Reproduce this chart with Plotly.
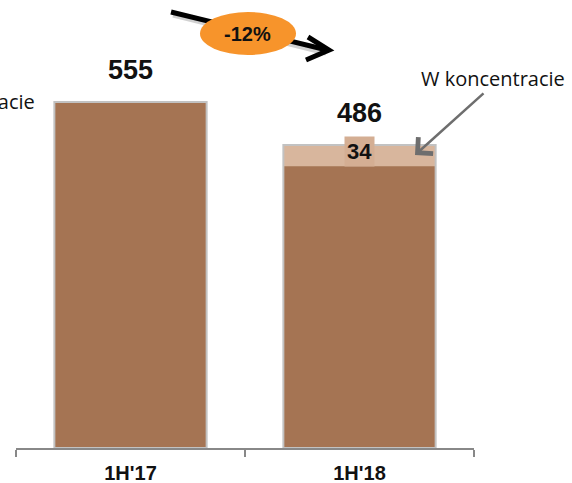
import plotly.graph_objects as go

# ---- data ----
categories = ["1H'17", "1H'18"]
base_values = [555, 452]          # main part of each bar
concentrate_values = [0, 34]      # "W koncentracie" part
change_label = "-12%"
concentrate_label = "W koncentracie"

totals = [b + c for b, c in zip(base_values, concentrate_values)]

# ---- styling ----
DARK = "#A57453"
LIGHT = "#D8B69D"
BOX = "#D4AE93"
OUTLINE = "#C2C2C2"
ORANGE = "#F7942B"
W, H = 572, 483
ML, MR, MT, MB = 16, 98, 10, 35
PW, PH = W - ML - MR, H - MT - MB
YMAX = PH / 0.6234


def px(x):
    return (x - ML) / PW


def py(y):
    return (H - MB - y) / PH


fig = go.Figure()
fig.add_trace(go.Bar(x=categories, y=totals, marker=dict(color=LIGHT, line=dict(width=0)),
                     hoverinfo="skip"))
fig.add_trace(go.Bar(x=categories, y=base_values, marker=dict(color=DARK, line=dict(width=0)),
                     hoverinfo="skip"))
fig.add_trace(go.Bar(x=categories, y=totals,
                     marker=dict(color="rgba(0,0,0,0)", line=dict(width=2, color=OUTLINE)),
                     hoverinfo="skip"))

annotations = []
for cat, tot in zip(categories, totals):
    annotations.append(dict(x=cat, y=tot, xref="x", yref="y", text=str(tot), showarrow=False,
                            yanchor="middle", yshift=32,
                            font=dict(family="Liberation Sans", size=27, color="#111", weight="bold")))

for cat, b, c in zip(categories, base_values, concentrate_values):
    if c > 0:
        annotations.append(dict(x=cat, y=b + c / 2, xref="x", yref="y", text=str(c), showarrow=False,
                                yshift=4, bgcolor=BOX, borderpad=2,
                                font=dict(family="Liberation Sans", size=22, color="#111", weight="bold")))

# callout labels
annotations.append(dict(x=px(419), y=py(79), xref="paper", yref="paper", text=concentrate_label,
                        showarrow=False, xanchor="left", yanchor="middle",
                        font=dict(family="Open Sans", size=20, color="#111")))
annotations.append(dict(x=px(37), y=py(101), xref="paper", yref="paper", text=concentrate_label,
                        showarrow=False, xanchor="right", yanchor="middle",
                        font=dict(family="Open Sans", size=20, color="#111")))
# gray arrow
annotations.append(dict(x=px(415), y=py(155), xref="paper", yref="paper", text="",
                        showarrow=True, ax=70, ay=-63, arrowhead=4, arrowwidth=2.5,
                        arrowsize=1.7, arrowcolor="#6E6E6E"))
# change label
annotations.append(dict(x=px(248), y=py(34), xref="paper", yref="paper", text=change_label,
                        showarrow=False, xanchor="center", yanchor="middle",
                        font=dict(family="Liberation Sans", size=20, color="#111", weight="bold")))

shapes = [
    # shadow
    dict(type="line", xref="paper", yref="paper", x0=px(173), y0=py(15), x1=px(326), y1=py(53),
         line=dict(color="rgba(0,0,0,0.18)", width=5), layer="above"),
    dict(type="line", xref="paper", yref="paper", x0=px(171), y0=py(12), x1=px(327), y1=py(50),
         line=dict(color="#000", width=5), layer="above"),
    dict(type="path", xref="paper", yref="paper",
         path=f"M {px(308)},{py(37)} L {px(329)},{py(50)} L {px(306)},{py(60)}",
         line=dict(color="#000", width=5), layer="above"),
    dict(type="circle", xref="paper", yref="paper", x0=px(200), x1=px(296), y0=py(12), y1=py(55),
         fillcolor=ORANGE, line=dict(width=0), layer="above"),
]

fig.update_layout(
    width=W, height=H,
    margin=dict(l=ML, r=MR, t=MT, b=MB),
    barmode="overlay", bargap=0.335,
    plot_bgcolor="white", paper_bgcolor="white",
    showlegend=False,
    annotations=annotations,
    shapes=shapes,
    xaxis=dict(type="category", range=[-0.5, 1.5], tickson="boundaries", ticks="outside",
               ticklen=7, tickcolor="#888", tickwidth=1.5, showline=True, linecolor="#888",
               linewidth=1.5, showgrid=False, zeroline=False, ticklabelstandoff=6,
               automargin=False,
               tickfont=dict(family="Liberation Sans", size=20, color="#111", weight="bold")),
    yaxis=dict(visible=False, range=[0, YMAX], fixedrange=True, automargin=False),
)

fig.write_html(
    "out.html",
    config={"displayModeBar": False},
    post_script="document.body.style.margin='0';document.body.style.overflow='hidden';",
)
